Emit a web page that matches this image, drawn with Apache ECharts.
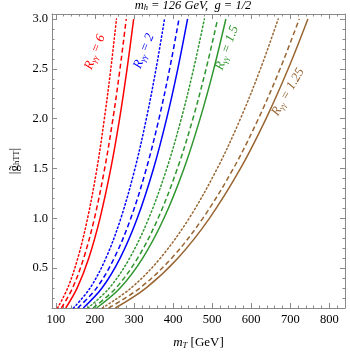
<!DOCTYPE html>
<html><head><meta charset="utf-8">
<script src="https://cdn.jsdelivr.net/npm/echarts@6/dist/echarts.min.js"></script>
<style>html,body{margin:0;padding:0;background:#fff}#c{width:350px;height:355px}</style>
</head><body><div id="c"></div>
<script>
// y levels at which each curve's m_T was read
const yLevels = [0.1, 0.3, 0.6, 1.0, 1.5, 2.0, 2.5, 3.0];
// R_γγ = 6 (red)
const red_dotted = [104, 130, 156, 181, 205, 224, 240.5, 255];
const red_dashed = [114, 142.5, 171, 198.6, 224.8, 246, 264, 280];
const red_solid  = [125, 154.2, 184, 212.8, 240.5, 263, 282.1, 299];
// R_γγ = 2 (blue)
const blue_dotted = [145, 187.3, 227.9, 266.2, 302.4, 331.5, 356.3, 378];
const blue_dashed = [156, 203.9, 249.1, 291.6, 331.6, 363.8, 391.1, 415];
const blue_solid  = [170, 217.9, 264.3, 308.2, 349.9, 383.4, 412, 437];
// R_γγ = 1.5 (green)
const green_dotted = [182, 236.6, 288.7, 337.6, 383.8, 420.9, 452.4, 480];
const green_dashed = [195, 253.4, 309.1, 361.5, 411, 450.7, 484.4, 514];
const green_solid  = [204, 264.3, 322.1, 376.5, 427.9, 469.1, 504.2, 535];
// R_γγ = 1.25 (brown)
const brown_dotted = [219, 292.2, 367.2, 440.9, 512.9, 572.4, 623.6, 669];
const brown_dashed = [235, 314.7, 396.2, 476.0, 554.3, 618.4, 673.8, 723];
const brown_solid  = [252, 330.3, 412.0, 492.9, 572.5, 637.9, 694.6, 745];

const xMajor = [100, 200, 300, 400, 500, 600, 700, 800];
const xMinor = [];
for (let v = 100; v <= 840; v += 20) if (v % 100 !== 0) xMinor.push(v);
const yMajor = [0.5, 1.0, 1.5, 2.0, 2.5, 3.0];
const yMinor = [0.1, 0.2, 0.3, 0.4, 0.6, 0.7, 0.8, 0.9, 1.1, 1.2, 1.3, 1.4, 1.6, 1.7, 1.8, 1.9, 2.1, 2.2, 2.3, 2.4, 2.6, 2.7, 2.8, 2.9];

const COL = {red: '#ff0000', blue: '#0000ff', green: '#2f962f', brown: '#996633'};
const SERIF = 'Liberation Serif';
const frame = '#8a8a8a';

function mk(arr, color, style) {
  const type = style === 'dotted' ? [1.4, 2.6] : style === 'dashed' ? [5, 3] : 'solid';
  return {
    type: 'line', data: yLevels.map((y, i) => [arr[i], y]), showSymbol: false, smooth: 0.35,
    xAxisIndex: 0, yAxisIndex: 0, clip: true,
    lineStyle: {color, width: 1.5, type, cap: style === 'dotted' ? 'round' : 'butt'}
  };
}

function xAx(pos, ticks, len, labels) {
  return {
    type: 'value', position: pos, min: 90, max: 840,
    axisLine: {show: labels !== null, lineStyle: {color: frame, width: 1}},
    axisTick: {show: true, inside: true, length: len, customValues: ticks, lineStyle: {color: frame}},
    axisLabel: labels ? {show: true, customValues: ticks, color: '#000', fontFamily: SERIF, fontSize: 12.5, margin: 5} : {show: false},
    splitLine: {show: false}
  };
}
function yAx(pos, ticks, len, labels) {
  return {
    type: 'value', position: pos, min: 0.1, max: 3.05,
    axisLine: {show: labels !== null, lineStyle: {color: frame, width: 1}},
    axisTick: {show: true, inside: true, length: len, customValues: ticks, lineStyle: {color: frame}},
    axisLabel: labels ? {show: true, customValues: ticks, color: '#000', fontFamily: SERIF, fontSize: 12.5, margin: 4,
      formatter: v => v.toFixed(1)} : {show: false},
    splitLine: {show: false}
  };
}

const xAxes = [xAx('bottom', xMajor, 5, true), xAx('bottom', xMinor, 2.5, null), xAx('top', xMajor, 5, false), xAx('top', xMinor, 2.5, null)];
xAxes[0].name = '{i|m}{s|T} {n|[GeV]}';
xAxes[0].nameLocation = 'middle';
xAxes[0].nameGap = 28;
xAxes[0].nameTextStyle = {color: '#000', fontFamily: SERIF, fontSize: 13,
  rich: {i: {fontStyle: 'italic', fontFamily: SERIF, fontSize: 13, color: '#000'},
         s: {fontStyle: 'italic', fontFamily: SERIF, fontSize: 8.5, color: '#000', padding: [5, 0, 0, 0]},
         n: {fontFamily: SERIF, fontSize: 13, color: '#000'}}};
const yAxes = [yAx('left', yMajor, 5, true), yAx('left', yMinor, 2.5, null), yAx('right', yMajor, 5, false), yAx('right', yMinor, 2.5, null)];
yAxes[0].name = '{n||g̃}{s|hTT}{n||}';
yAxes[0].nameLocation = 'middle';
yAxes[0].nameGap = 27;
yAxes[0].nameTextStyle = {color: '#000', fontFamily: SERIF, fontSize: 13,
  rich: {n: {fontFamily: SERIF, fontSize: 13, color: '#000'},
         s: {fontFamily: SERIF, fontSize: 8.5, color: '#000', padding: [5, 0, 0, 0]}}};

function lbl(x, y, rot, color, val) {
  return {
    type: 'text', x, y, rotation: rot * Math.PI / 180, z: 100,
    style: {
      text: '{i|R}{s|γγ}{i| = ' + val + '}', fill: color, align: 'center', verticalAlign: 'middle',
      rich: {i: {fontFamily: SERIF, fontStyle: 'italic', fontSize: 13, fill: color, color},
             s: {fontFamily: SERIF, fontStyle: 'italic', fontSize: 8.5, fill: color, color, padding: [6, 0, 0, 0]}}
    }
  };
}

const chart = echarts.init(document.getElementById('c'), null, {renderer: 'canvas'});
chart.setOption({
  animation: false,
  backgroundColor: '#fff',
  grid: {left: 41, right: 5, top: 14, bottom: 42},
  xAxis: xAxes,
  yAxis: yAxes,
  series: [
    mk(red_dotted, COL.red, 'dotted'), mk(red_dashed, COL.red, 'dashed'), mk(red_solid, COL.red, 'solid'),
    mk(blue_dotted, COL.blue, 'dotted'), mk(blue_dashed, COL.blue, 'dashed'), mk(blue_solid, COL.blue, 'solid'),
    mk(green_dotted, COL.green, 'dotted'), mk(green_dashed, COL.green, 'dashed'), mk(green_solid, COL.green, 'solid'),
    mk(brown_dotted, COL.brown, 'dotted'), mk(brown_dashed, COL.brown, 'dashed'), mk(brown_solid, COL.brown, 'solid')
  ],
  graphic: [
    {type: 'text', x: 193, y: 6, z: 100, style: {
      text: '{i|m}{s|h}{i| = 126 GeV,  g = 1/2}', align: 'center', verticalAlign: 'middle',
      rich: {i: {fontFamily: SERIF, fontStyle: 'italic', fontSize: 12.5, fill: '#000'},
             s: {fontFamily: SERIF, fontStyle: 'italic', fontSize: 8.5, fill: '#000', padding: [4, 0, 0, 0]}}}},
    lbl(95, 52, 68, COL.red, '6'),
    lbl(144, 51, 68, COL.blue, '2'),
    lbl(227, 48, 70, COL.green, '1.5'),
    lbl(288, 92, 60, COL.brown, '1.25')
  ]
});
</script></body></html>
